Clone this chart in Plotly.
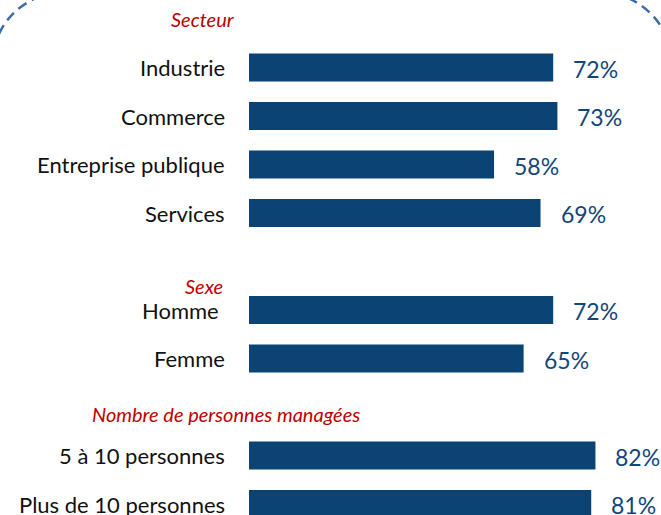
import plotly.graph_objects as go

# ---- data ----
categories = ["Industrie", "Commerce", "Entreprise publique", "Services",
              "Homme", "Femme", "5 à 10 personnes", "Plus de 10 personnes"]
values = [72, 73, 58, 69, 72, 65, 82, 81]
groups = ["Secteur", "Sexe", "Nombre de personnes managées"]

# row order on the category axis (blank rows hold group headers)
row_order = [" ", "Industrie", "Commerce", "Entreprise publique", "Services",
             "  ", "Homme", "Femme", "   ", "5 à 10 personnes", "Plus de 10 personnes"]

W, H = 661, 515
BAR = "#0B4474"
VAL = "#12467A"
RED = "#C00000"
FONT = "Lato"

fig = go.Figure()
fig.add_trace(go.Bar(
    x=values, y=categories, orientation="h",
    marker=dict(color=BAR, line=dict(width=0)),
    width=0.58, hoverinfo="skip",
))

# px mapping: x=0 at 249px, 4.225 px per %
x0_px, px_per = 249, 4.225
xr = [-x0_px / px_per, (W - x0_px) / px_per]
row_px = 48.5
r0 = -19 / row_px
yr = [r0 + H / row_px, r0]

annotations = []
label_shift = {"Homme": -28}
for c, v in zip(categories, values):
    annotations.append(dict(x=0, y=c, xref="x", yref="y", text=c, showarrow=False,
                            xanchor="right", yanchor="middle",
                            xshift=label_shift.get(c, -22),
                            font=dict(family=FONT, size=22, color="#111111")))
    annotations.append(dict(x=v, y=c, xref="x", yref="y", text=f"{v}%", showarrow=False,
                            xanchor="left", yanchor="middle", xshift=18, yshift=-1,
                            font=dict(family=FONT, size=23, color=VAL)))

hdr_pos = [(0, -12), (5.5, -24), (8.15, 113)]
for g, (yy, sh) in zip(groups, hdr_pos):
    annotations.append(dict(x=0, y=yy, xref="x", yref="y", text=f"<i>{g}</i>",
                            showarrow=False, xanchor="right", yanchor="middle",
                            xshift=sh,
                            font=dict(family=FONT, size=20, color=RED)))

def P(px, py):
    return f"{px / W:.5f},{1 - py / H:.5f}"

shapes = [
    dict(type="path", xref="paper", yref="paper",
         path=f"M {P(-1, 34)} Q {P(10, 10)} {P(36, -2)}",
         line=dict(color="#3D6FA6", width=2.5, dash="10px,6px")),
    dict(type="path", xref="paper", yref="paper",
         path=f"M {P(628, -2)} Q {P(650, 8)} {P(662, 28)}",
         line=dict(color="#3D6FA6", width=2.5, dash="10px,6px")),
]

fig.update_layout(
    width=W, height=H,
    margin=dict(l=0, r=0, t=0, b=0),
    paper_bgcolor="white", plot_bgcolor="white",
    showlegend=False,
    xaxis=dict(range=xr, visible=False, fixedrange=True),
    yaxis=dict(type="category", categoryorder="array", categoryarray=row_order,
               range=yr, visible=False, fixedrange=True),
    annotations=annotations, shapes=shapes,
)

fig.write_html("out.html", config={"displayModeBar": False},
               post_script="document.body.style.margin='0';document.body.style.overflow='hidden';")
